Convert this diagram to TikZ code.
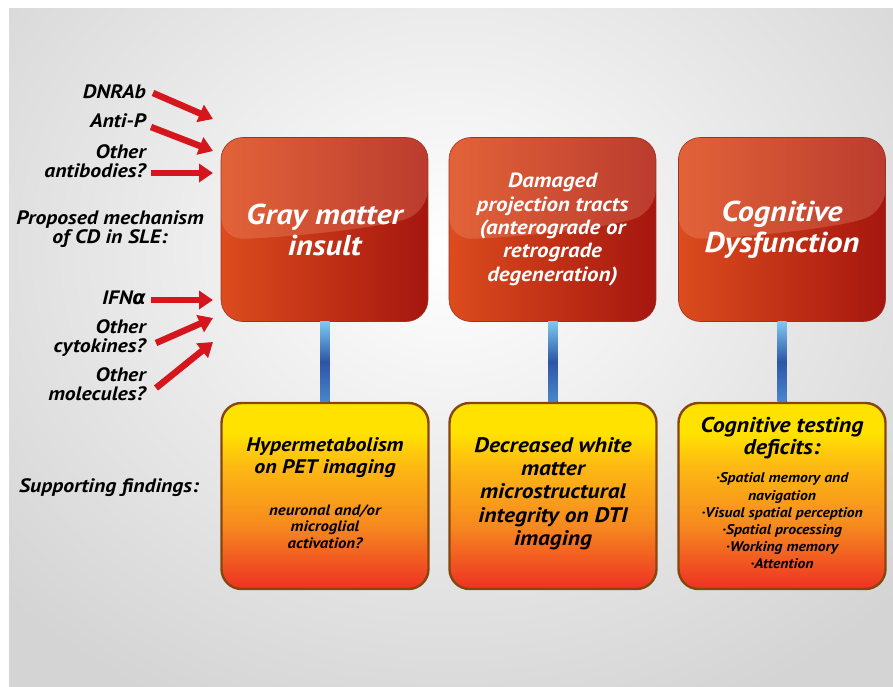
\documentclass[tikz,border=0pt]{standalone}
\usepackage{fontspec}
\setmainfont{PT Sans}[FakeStretch=1.12]
\newfontfamily\grkfont{DejaVu Sans}
\usepackage{tikz}
\usetikzlibrary{positioning,arrows.meta,calc}

\definecolor{bgout}{HTML}{D4D4D4}
\definecolor{redL}{HTML}{DC4C1E}
\definecolor{redR}{HTML}{A5160F}
\definecolor{redE}{HTML}{9A3322}
\definecolor{yred}{HTML}{EE3124}
\definecolor{yorange}{HTML}{F6891F}
\definecolor{ygold}{HTML}{FDB913}
\definecolor{yyellow}{HTML}{FFE200}
\definecolor{ybrown}{HTML}{86470C}
\definecolor{blueL}{HTML}{7CC8EE}
\definecolor{blueD}{HTML}{2C56A6}
\definecolor{blueM}{HTML}{4A86CC}
\definecolor{arrred}{HTML}{D5161C}
\definecolor{gloss}{HTML}{F4A080}

\pgfdeclareverticalshading{yelshade}{100bp}{color(0bp)=(yred); color(25bp)=(yred); color(42bp)=(yorange); color(58bp)=(ygold); color(67bp)=(yyellow); color(100bp)=(yyellow)}

\tikzset{
	redbox/.style={rounded corners=22pt, minimum width=207pt, minimum height=184pt, inner sep=0pt,
		left color=redL, right color=redR, draw=redE, line width=0.6pt, text=white, align=center,
		path picture={
			\fill[gloss,opacity=0.28] (path picture bounding box.north west) -- (path picture bounding box.north east)
				-- ($(path picture bounding box.north east)!0.40!(path picture bounding box.south east)$)
				.. controls ($(path picture bounding box.north east)!0.5!(path picture bounding box.south)$) and ($(path picture bounding box.south west)!0.45!(path picture bounding box.north)$) ..
				($(path picture bounding box.north west)!0.55!(path picture bounding box.south west)$) -- cycle;
		}},
	yelbox/.style={rounded corners=20pt, minimum width=207pt, minimum height=186pt, inner sep=0pt,
		shading=yelshade, draw=ybrown, line width=2.4pt},
	link/.style={top color=blueL, bottom color=blueM, middle color=blueD},
	redarrow/.style={draw=arrred, line width=6.5pt, -{Triangle[length=14pt,width=18pt]}},
	lbl/.style={font=\fontsize{19.4}{18.5}\selectfont\bfseries\itshape, align=right, anchor=east, inner sep=0pt},
	bigtxt/.style={font=\fontsize{28.7}{31}\selectfont\bfseries\itshape},
	midtxt/.style={font=\fontsize{20.5}{23.3}\selectfont\bfseries\itshape},
	boxtitle/.style={font=\fontsize{19.6}{21.5}\selectfont\bfseries\itshape, align=center, inner sep=0pt},
	smalltxt/.style={font=\fontsize{15}{16.5}\selectfont\bfseries\itshape, align=center, inner sep=0pt},
}

\begin{document}
\begin{tikzpicture}[x=1pt,y=-1pt]
	\useasboundingbox (0,0) rectangle (893,686);
	% 背景
	\fill[white] (0,0) rectangle (893,686);
	\begin{scope}
		\clip (9,8) rectangle (893,686);
		\shade[inner color=white, outer color=bgout] (-160,-260) rectangle (1060,760);
	\end{scope}

	% 上排
	\node[redbox,bigtxt] (gray) at (324.5,229.5) {Gray matter\\insult};
	\node[redbox,midtxt] (tract) at (552.5,229.5) {Damaged\\projection tracts\\(anterograde or\\retrograde\\degeneration)};
	\node[redbox,bigtxt] (cogd) at (782,229.5) {Cognitive\\Dysfunction};

	% 下排
	\node[yelbox] (pet) at (325,496) {};
	\node[yelbox] (dti) at (553,496) {};
	\node[yelbox] (test) at (782,496) {};

	% 连接
	\fill[link] ([xshift=-4.5pt]gray.south) rectangle ([xshift=4.5pt]pet.north);
	\fill[link] ([xshift=-4.5pt]tract.south) rectangle ([xshift=4.5pt]dti.north);
	\fill[link] ([xshift=-4.5pt]cogd.south) rectangle ([xshift=4.5pt]test.north);

	% 框内文字
	\node[boxtitle] (petT) at (325,457.5) {Hypermetabolism\\on PET imaging};
	\node[smalltxt] (petS) at (325,526.5) {neuronal and/or\\microglial\\activation?};
	\node[boxtitle,font=\fontsize{21}{23.3}\selectfont\bfseries\itshape] (dtiT) at (553,493.5) {Decreased white\\matter\\microstructural\\integrity on DTI\\imaging};
	\node[boxtitle,font=\fontsize{21.4}{22}\selectfont\bfseries\itshape] (testT) at (782,438) {Cognitive testing\\deficits:};
	\node[smalltxt,font=\fontsize{14}{17.2}\selectfont\bfseries\itshape] (testS) at (782,521) {·Spatial memory and\\navigation\\·Visual spatial perception\\·Spatial processing\\·Working memory\\·Attention};

	% 左侧标签
	\node[lbl] (dnrab) at (146,92) {DNRAb};
	\node[lbl] (antip) at (146,121) {Anti-P};
	\node[lbl] (otherab) at (146,161) {Other\\antibodies?};
	\node[lbl,align=center,anchor=center] (mech) at (110,229) {Proposed mechanism\\of CD in SLE:};
	\node[lbl] (ifn) at (146,298) {IFN{\grkfont α}};
	\node[lbl] (othercyt) at (146,338) {Other\\cytokines?};
	\node[lbl] (othermol) at (146,384) {Other\\molecules?};
	\node[lbl,anchor=center] (support) at (109,488) {Supporting findings:};

	% 红色箭头
	\coordinate (t1) at (213,119);
	\coordinate (t2) at (213,151);
	\coordinate (t3) at (213,173);
	\coordinate (t4) at (213,300);
	\coordinate (t5) at (213,318);
	\coordinate (t6) at (213,342);
	\draw[redarrow] ([xshift=7pt,yshift=-1pt]dnrab.east) -- (t1);
	\draw[redarrow] ([xshift=5pt,yshift=-6pt]antip.east) -- (t2);
	\draw[redarrow] ([xshift=5pt,yshift=-12pt]otherab.east) -- (t3);
	\draw[redarrow] ([xshift=5pt,yshift=-2pt]ifn.east) -- (t4);
	\draw[redarrow] ([xshift=10pt,yshift=-5pt]othercyt.east) -- (t5);
	\draw[redarrow] ([xshift=10pt,yshift=-4pt]othermol.east) -- (t6);
\end{tikzpicture}
\end{document}
